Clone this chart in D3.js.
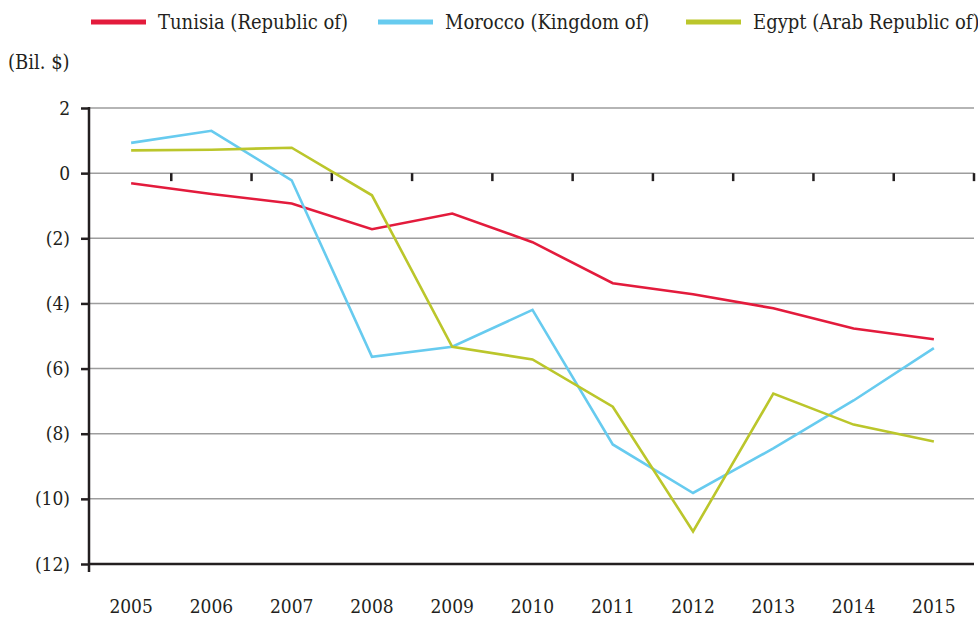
<!DOCTYPE html>
<html>
<head>
<meta charset="utf-8">
<script src="https://cdn.jsdelivr.net/npm/d3@7"></script>
<style>
  body { margin: 0; background: #fff; }
  text { font-family: "DejaVu Serif Condensed", "DejaVu Serif", serif; fill: #231f20; }
</style>
</head>
<body>
<div id="chart"></div>
<script>
const years = ["2005", "2006", "2007", "2008", "2009", "2010", "2011", "2012", "2013", "2014", "2015"];
const tunisia = [-0.31, -0.64, -0.93, -1.72, -1.24, -2.12, -3.38, -3.72, -4.15, -4.77, -5.1];
const morocco = [0.93, 1.3, -0.22, -5.64, -5.33, -4.2, -8.33, -9.82, -8.45, -6.98, -5.37];
const egypt = [0.7, 0.72, 0.78, -0.68, -5.33, -5.72, -7.17, -11.0, -6.77, -7.72, -8.24];
const seriesNames = ["Tunisia (Republic of)", "Morocco (Kingdom of)", "Egypt (Arab Republic of)"];
const seriesColors = ["#e31b3c", "#67cbef", "#bbc62b"];
const yTicks = [2, 0, -2, -4, -6, -8, -10, -12];

const series = [tunisia, morocco, egypt].map((vals, i) => ({
    name: seriesNames[i],
    color: seriesColors[i],
    values: vals.map((v, j) => ({ year: years[j], value: v }))
}));

const W = 978, H = 619;
const plotLeft = 89, plotRight = 974, plotTop = 108, plotBottom = 564;

const svg = d3.select("#chart").append("svg")
    .attr("width", W)
    .attr("height", H);

const x = d3.scaleBand()
    .domain(years)
    .range([plotLeft + 2, plotRight]);

const y = d3.scaleLinear()
    .domain([-12, 2])
    .range([plotBottom, plotTop]);

// gridlines
svg.append("g")
    .selectAll("line")
    .data(yTicks.filter(d => d !== -12))
    .join("line")
    .attr("x1", plotLeft)
    .attr("x2", plotRight)
    .attr("y1", d => y(d))
    .attr("y2", d => y(d))
    .attr("stroke", "#9d9d9d")
    .attr("stroke-width", 1.5);

// ticks on the zero line, between years
svg.append("g")
    .selectAll("line")
    .data(years)
    .join("line")
    .attr("x1", d => x(d) + x.bandwidth())
    .attr("x2", d => x(d) + x.bandwidth())
    .attr("y1", y(0))
    .attr("y2", y(0) + 8)
    .attr("stroke", "#231f20")
    .attr("stroke-width", 2.5);

// y axis
const yAxis = svg.append("g")
    .attr("transform", `translate(${plotLeft},0)`)
    .call(d3.axisLeft(y)
        .tickValues(yTicks)
        .tickSize(8)
        .tickPadding(11)
        .tickFormat(d => d < 0 ? `(${-d})` : d));
yAxis.select(".domain").remove();
yAxis.selectAll(".tick line").attr("stroke", "#231f20").attr("stroke-width", 2.5);
yAxis.selectAll(".tick text").attr("font-size", 19).attr("font-family", null);

svg.append("line")
    .attr("x1", plotLeft).attr("x2", plotLeft)
    .attr("y1", plotTop - 1).attr("y2", plotBottom + 8)
    .attr("stroke", "#231f20").attr("stroke-width", 2.5);

svg.append("line")
    .attr("x1", plotLeft).attr("x2", plotRight)
    .attr("y1", plotBottom).attr("y2", plotBottom)
    .attr("stroke", "#231f20").attr("stroke-width", 2.5);

// x labels
svg.append("g")
    .selectAll("text")
    .data(years)
    .join("text")
    .attr("x", d => x(d) + x.bandwidth() / 2)
    .attr("y", 613)
    .attr("text-anchor", "middle")
    .attr("font-size", 19)
    .text(d => d);

// lines
const line = d3.line()
    .x(d => x(d.year) + x.bandwidth() / 2)
    .y(d => y(d.value));

svg.append("g")
    .selectAll("path")
    .data(series)
    .join("path")
    .attr("d", d => line(d.values))
    .attr("fill", "none")
    .attr("stroke", d => d.color)
    .attr("stroke-width", 2.6)
    .attr("stroke-linejoin", "miter");

// unit label
svg.append("text")
    .attr("x", 8)
    .attr("y", 69)
    .attr("font-size", 20)
    .text("(Bil. $)");

// legend
const legendX = [91, 378, 686];
const legend = svg.append("g")
    .selectAll("g")
    .data(series)
    .join("g")
    .attr("transform", (d, i) => `translate(${legendX[i]},22)`);

legend.append("rect")
    .attr("x", 0)
    .attr("y", -2.5)
    .attr("width", 55)
    .attr("height", 5)
    .attr("fill", d => d.color);

legend.append("text")
    .attr("x", 67)
    .attr("y", 7)
    .attr("font-size", 20)
    .text(d => d.name);
</script>
</body>
</html>
